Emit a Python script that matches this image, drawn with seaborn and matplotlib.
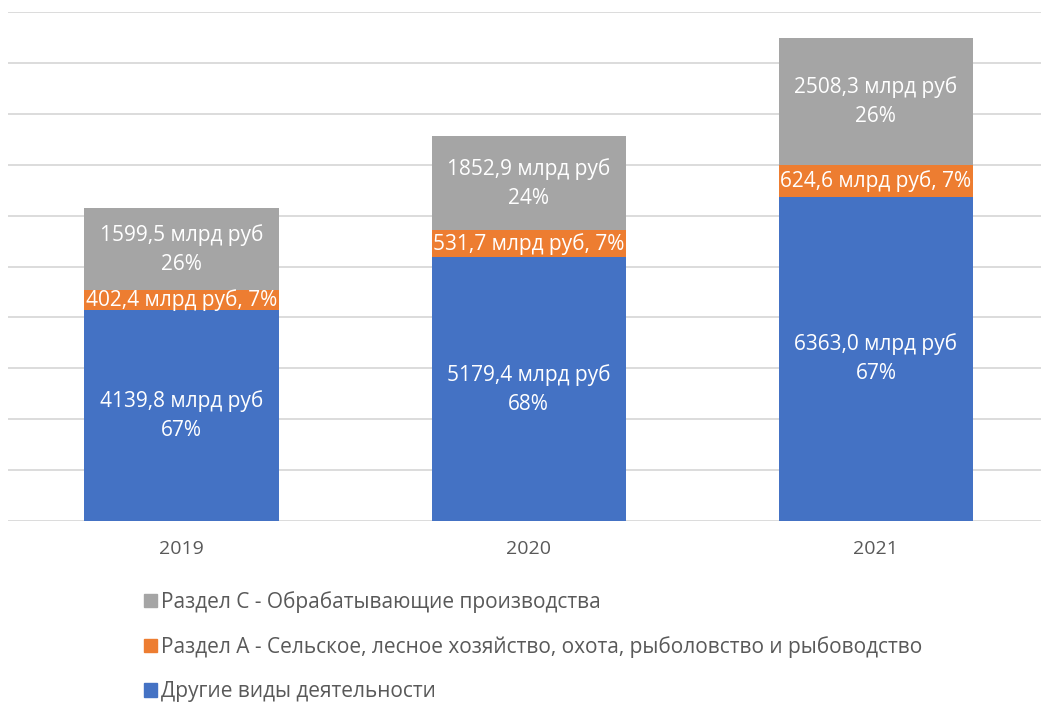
import matplotlib
matplotlib.use("Agg")
import matplotlib.pyplot as plt
import seaborn as sns
import pandas as pd
import numpy as np
from matplotlib.patches import Patch

years = ["2019", "2020", "2021"]
other = [4139.8, 5179.4, 6363.0]
agri = [402.4, 531.7, 624.6]
manuf = [1599.5, 1852.9, 2508.3]
other_pct = ["67%", "68%", "67%"]
agri_pct = ["7%", "7%", "7%"]
manuf_pct = ["26%", "24%", "26%"]
series_names = [
    "Раздел С - Обрабатывающие производства",
    "Раздел А - Сельское, лесное хозяйство, охота, рыболовство и рыбоводство",
    "Другие виды деятельности",
]

c_blue, c_orange, c_gray = "#4472C4", "#ED7D31", "#A5A5A5"

sns.set_theme(style="white")
plt.rcParams["font.family"] = ["Open Sans", "DejaVu Sans"]

df = pd.DataFrame({"year": years, "other": other, "agri": agri, "manuf": manuf})
df["s1"] = df["other"]
df["s2"] = df["other"] + df["agri"]
df["s3"] = df["s2"] + df["manuf"]

fig = plt.figure(figsize=(10.41, 7.04), dpi=100)
W, H = 1041, 704
ax = fig.add_axes([8 / W, 1 - 521 / H, (1049.5 - 8) / W, (521 - 12) / H])

bw = 0.56
sns.barplot(data=df, x="year", y="s3", color=c_gray, saturation=1, width=bw, ax=ax, zorder=2, linewidth=0)
sns.barplot(data=df, x="year", y="s2", color=c_orange, saturation=1, width=bw, ax=ax, zorder=2, linewidth=0)
sns.barplot(data=df, x="year", y="s1", color=c_blue, saturation=1, width=bw, ax=ax, zorder=2, linewidth=0)

ax.set_ylim(0, 10000)
ax.set_xlim(-0.5, 2.5)
ax.set_yticks(np.arange(0, 10001, 1000))
ax.yaxis.grid(True, color="#D9D9D9", linewidth=1.3, zorder=0)
ax.set_axisbelow(True)
ax.tick_params(axis="y", left=False, labelleft=False)
ax.tick_params(axis="x", bottom=False, labelsize=14, labelcolor="#595959", pad=8)
ax.set_xlabel("")
ax.set_ylabel("")
for s in ax.spines.values():
    s.set_visible(False)

def fmt(v):
    return f"{v:.1f}".replace(".", ",")

fs = 15
for i in range(len(years)):
    ax.text(i, other[i] / 2, f"{fmt(other[i])} млрд руб\n{other_pct[i]}", ha="center", va="center",
            color="white", fontsize=fs, linespacing=1.5, zorder=3)
    ax.text(i, other[i] + agri[i] / 2, f"{fmt(agri[i])} млрд руб, {agri_pct[i]}", ha="center", va="center",
            color="white", fontsize=fs, zorder=3)
    ax.text(i, other[i] + agri[i] + manuf[i] / 2, f"{fmt(manuf[i])} млрд руб\n{manuf_pct[i]}", ha="center",
            va="center", color="white", fontsize=fs, linespacing=1.5, zorder=3)

handles = [Patch(color=c_gray), Patch(color=c_orange), Patch(color=c_blue)]
fig.legend(handles, series_names, loc="upper left", bbox_to_anchor=(144 / W, 1 - 591 / H),
           frameon=False, fontsize=15, labelcolor="#595959", handlelength=0.6, handleheight=0.6,
           handletextpad=0.2, labelspacing=1.12, borderaxespad=0, borderpad=0)

fig.savefig("out.png", dpi=100)
